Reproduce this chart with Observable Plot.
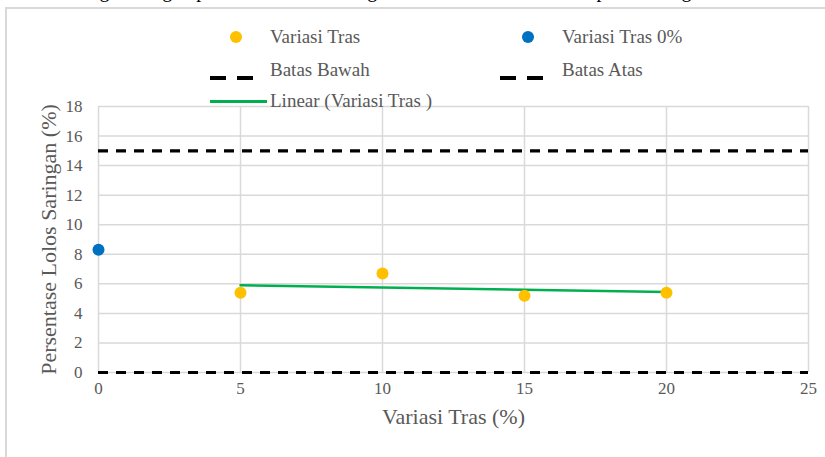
<!DOCTYPE html>
<html>
<head>
<meta charset="utf-8">
<script src="https://cdn.jsdelivr.net/npm/d3@7"></script>
<script src="https://cdn.jsdelivr.net/npm/@observablehq/plot@0.6"></script>
<style>
  html, body { margin: 0; padding: 0; background: #fff; }
  #wrap { position: relative; width: 825px; height: 457px; overflow: hidden; font-family: "Liberation Serif", "Times New Roman", serif; }
  #title { position: absolute; left: 0; top: -20px; width: 825px; white-space: nowrap; font-size: 20px; line-height: 20px; color: #000; text-align: center; }
  #box { position: absolute; left: 5px; top: 7px; width: 840px; height: 470px; border-left: 2px solid #d9d9d9; border-top: 2px solid #d9d9d9; }
  #chart { position: absolute; left: 0; top: 0; }
  .leg { position: absolute; font-size: 19px; color: #595959; white-space: nowrap; line-height: 1; }
  .sym { position: absolute; }
</style>
</head>
<body>
<div id="wrap">
  <div id="title">Hubungan dengan persentase lolos saringan No. 200 dan variasi tras pada Saringan No. 200</div>
  <div id="box"></div>
  <div id="chart"></div>
  <div id="legend"></div>
</div>
<script>
// Data
const trasX = [5, 10, 15, 20];
const trasY = [5.4, 6.7, 5.2, 5.4];
const tras0X = [0];
const tras0Y = [8.3];
const batasBawah = 0;
const batasAtas = 15;
const xTicks = [0, 5, 10, 15, 20, 25];
const yTicks = [0, 2, 4, 6, 8, 10, 12, 14, 16, 18];
const xLabel = "Variasi Tras (%)";
const yLabel = "Persentase Lolos Saringan (%)";
const legendLabels = ["Variasi Tras", "Variasi Tras 0%", "Batas Bawah", "Batas Atas", "Linear (Variasi Tras )"];

const tras = trasX.map((x, i) => ({x, y: trasY[i]}));
const tras0 = tras0X.map((x, i) => ({x, y: tras0Y[i]}));

const gray = "#595959";
const serif = "Liberation Serif";
const chart = Plot.plot({
  width: 825,
  height: 457,
  marginLeft: 98,
  marginRight: 17,
  marginTop: 106,
  marginBottom: 85,
  style: { fontFamily: serif, fontSize: "17px", color: gray, background: "transparent" },
  x: { domain: [0, 25], axis: null },
  y: { domain: [0, 18], axis: null },
  marks: [
    Plot.gridX(xTicks, { stroke: "#d9d9d9", strokeOpacity: 1, strokeWidth: 1.5 }),
    Plot.gridY(yTicks, { stroke: "#d9d9d9", strokeOpacity: 1, strokeWidth: 1.5 }),
    Plot.text(xTicks, { x: d => d, frameAnchor: "bottom", dy: 21, fill: gray, fontSize: 17, fontFamily: serif, text: d => String(d) }),
    Plot.text(yTicks, { y: d => d, frameAnchor: "left", textAnchor: "end", dx: -16, fill: gray, fontSize: 17, fontFamily: serif, text: d => String(d) }),
    Plot.text([xLabel], { frameAnchor: "bottom", dy: 51, fill: gray, fontSize: 22, fontFamily: serif, text: d => d }),
    Plot.text([yLabel], { frameAnchor: "left", dx: -50, textAnchor: "middle", rotate: -90, fill: gray, fontSize: 22, fontFamily: serif, text: d => d }),
    Plot.ruleY([batasBawah], { stroke: "#000", strokeWidth: 3.2, strokeDasharray: "10,8" }),
    Plot.ruleY([batasAtas], { stroke: "#000", strokeWidth: 3.2, strokeDasharray: "10,8" }),
    Plot.linearRegressionY(tras, { x: "x", y: "y", stroke: "#00B050", strokeWidth: 2.5, ci: 0 }),
    Plot.dot(tras, { x: "x", y: "y", r: 6, fill: "#FFC000", stroke: "none" }),
    Plot.dot(tras0, { x: "x", y: "y", r: 6, fill: "#0070C0", stroke: "none" })
  ]
});
document.getElementById("chart").appendChild(chart);

// Legend (HTML overlay)
const legend = document.getElementById("legend");
const items = [
  { label: legendLabels[0], type: "dot", color: "#FFC000", sx: 236, tx: 270, y: 37 },
  { label: legendLabels[1], type: "dot", color: "#0070C0", sx: 528, tx: 562, y: 37 },
  { label: legendLabels[2], type: "dash", color: "#000", sx: 210, tx: 270, y: 70 },
  { label: legendLabels[3], type: "dash", color: "#000", sx: 500, tx: 562, y: 70 },
  { label: legendLabels[4], type: "line", color: "#00B050", sx: 210, tx: 270, y: 101 }
];
for (const it of items) {
  const s = document.createElement("div");
  s.className = "sym";
  if (it.type === "dot") {
    Object.assign(s.style, { left: (it.sx - 6) + "px", top: (it.y - 6) + "px", width: "12px", height: "12px", borderRadius: "50%", background: it.color });
  } else if (it.type === "dash") {
    s.innerHTML = `<svg width="50" height="6"><line x1="0" y1="3" x2="43" y2="3" stroke="#000" stroke-width="4" stroke-dasharray="16,11"/></svg>`;
    Object.assign(s.style, { left: it.sx + "px", top: (it.y - 3) + "px" });
  } else {
    Object.assign(s.style, { left: it.sx + "px", top: (it.y - 1.5) + "px", width: "57px", height: "3px", background: it.color });
  }
  legend.appendChild(s);
  const t = document.createElement("div");
  t.className = "leg";
  t.textContent = it.label;
  Object.assign(t.style, { left: it.tx + "px", top: (it.y - 10) + "px" });
  legend.appendChild(t);
}
</script>
</body>
</html>
